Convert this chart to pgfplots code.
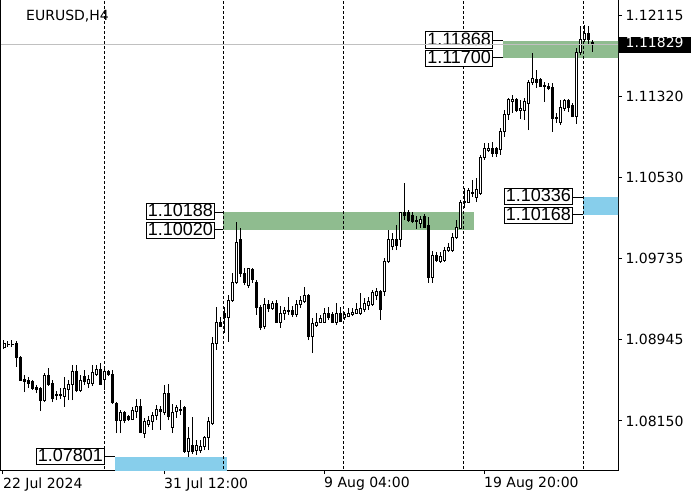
\documentclass[border=0pt]{standalone}
\usepackage{pgfplots}
\pgfplotsset{compat=1.18}
\usepackage{pgfplotstable}
\usepackage{fontspec}
\setmainfont{DejaVu Sans}
\newfontfamily\lblfont{Liberation Sans}
\definecolor{zgreen}{RGB}{143,188,143}
\definecolor{zblue}{RGB}{135,206,235}
\definecolor{pline}{RGB}{192,192,192}

\pgfplotstableread{
i o h l c
0 1.08873 1.08941 1.08854 1.08912
1 1.08902 1.08932 1.08873 1.08893
2 1.08893 1.08941 1.08873 1.08902
3 1.08912 1.08932 1.08678 1.08775
4 1.08775 1.08785 1.08541 1.08550
5 1.08560 1.08599 1.08433 1.08531
6 1.08550 1.08580 1.08472 1.08521
7 1.08531 1.08550 1.08453 1.08472
8 1.08482 1.08502 1.08423 1.08453
9 1.08472 1.08482 1.08247 1.08355
10 1.08355 1.08619 1.08335 1.08590
11 1.08590 1.08668 1.08492 1.08511
12 1.08521 1.08550 1.08335 1.08365
13 1.08404 1.08443 1.08355 1.08399
14 1.08399 1.08472 1.08365 1.08404
15 1.08394 1.08580 1.08287 1.08463
16 1.08453 1.08550 1.08355 1.08502
17 1.08502 1.08697 1.08355 1.08629
18 1.08629 1.08697 1.08433 1.08443
19 1.08443 1.08599 1.08433 1.08550
20 1.08580 1.08648 1.08502 1.08531
21 1.08521 1.08599 1.08472 1.08560
22 1.08521 1.08697 1.08492 1.08619
23 1.08609 1.08697 1.08590 1.08658
24 1.08658 1.08717 1.08502 1.08511
25 1.08560 1.08668 1.08453 1.08629
26 1.08629 1.08648 1.08590 1.08609
27 1.08609 1.08648 1.08316 1.08326
28 1.08316 1.08335 1.08032 1.08159
29 1.08159 1.08257 1.08032 1.08228
30 1.08228 1.08247 1.08130 1.08159
31 1.08189 1.08208 1.08150 1.08169
32 1.08169 1.08287 1.08159 1.08257
33 1.08238 1.08365 1.08179 1.08296
34 1.08296 1.08365 1.08032 1.08042
35 1.08032 1.08179 1.07984 1.08140
36 1.08120 1.08199 1.08091 1.08159
37 1.08140 1.08238 1.08062 1.08208
38 1.08208 1.08306 1.08159 1.08267
39 1.08267 1.08296 1.08062 1.08247
40 1.08228 1.08502 1.08208 1.08423
41 1.08423 1.08511 1.08159 1.08189
42 1.08091 1.08316 1.08032 1.08228
43 1.08238 1.08306 1.08179 1.08277
44 1.08267 1.08355 1.08208 1.08257
45 1.08277 1.08296 1.07837 1.07847
46 1.07847 1.08091 1.07801 1.07974
47 1.07915 1.08189 1.07827 1.07847
48 1.07866 1.07964 1.07817 1.07915
49 1.07866 1.07964 1.07837 1.07905
50 1.07896 1.08003 1.07866 1.07984
51 1.07984 1.08189 1.07866 1.08140
52 1.08130 1.08971 1.08111 1.08912
53 1.08912 1.09264 1.08844 1.09117
54 1.09117 1.09166 1.09069 1.09078
55 1.09196 1.09264 1.09010 1.09157
56 1.09166 1.09381 1.08922 1.09332
57 1.09332 1.09596 1.09313 1.09508
58 1.09508 1.10095 1.09489 1.09899
59 1.09919 1.10036 1.09557 1.09596
60 1.09596 1.09645 1.09479 1.09508
61 1.09479 1.09645 1.09450 1.09636
62 1.09626 1.09645 1.09499 1.09528
63 1.09508 1.09528 1.09186 1.09264
64 1.09264 1.09284 1.09039 1.09059
65 1.09069 1.09352 1.09049 1.09284
66 1.09284 1.09332 1.09215 1.09254
67 1.09254 1.09323 1.09235 1.09303
68 1.09303 1.09332 1.09108 1.09117
69 1.09108 1.09274 1.09059 1.09205
70 1.09196 1.09264 1.09137 1.09225
71 1.09225 1.09362 1.09186 1.09220
72 1.09225 1.09274 1.09166 1.09186
73 1.09186 1.09332 1.09166 1.09284
74 1.09284 1.09372 1.09254 1.09323
75 1.09313 1.09460 1.09303 1.09372
76 1.09372 1.09391 1.08941 1.08971
77 1.08971 1.09157 1.08814 1.09098
78 1.09088 1.09205 1.09069 1.09117
79 1.09117 1.09186 1.09108 1.09147
80 1.09117 1.09254 1.09108 1.09205
81 1.09205 1.09264 1.09137 1.09166
82 1.09186 1.09215 1.09108 1.09117
83 1.09108 1.09303 1.09088 1.09196
84 1.09196 1.09264 1.09117 1.09127
85 1.09157 1.09215 1.09137 1.09186
86 1.09176 1.09254 1.09166 1.09205
87 1.09186 1.09254 1.09176 1.09215
88 1.09205 1.09303 1.09196 1.09235
89 1.09205 1.09401 1.09186 1.09245
90 1.09235 1.09352 1.09215 1.09303
91 1.09274 1.09362 1.09235 1.09313
92 1.09293 1.09430 1.09274 1.09401
93 1.09372 1.09450 1.09332 1.09411
94 1.09411 1.09430 1.09137 1.09235
95 1.09411 1.09743 1.09372 1.09704
96 1.09704 1.10017 1.09694 1.09919
97 1.09851 1.09987 1.09821 1.09919
98 1.09919 1.10066 1.09821 1.09870
99 1.09919 1.10193 1.09851 1.10183
100 1.10183 1.10476 1.10114 1.10163
101 1.10183 1.10212 1.10095 1.10114
102 1.10163 1.10193 1.10085 1.10095
103 1.10114 1.10154 1.10027 1.10095
104 1.10085 1.10154 1.10036 1.10124
105 1.10144 1.10173 1.10036 1.10046
106 1.10056 1.10144 1.09499 1.09557
107 1.09557 1.09811 1.09499 1.09772
108 1.09772 1.09802 1.09704 1.09714
109 1.09704 1.09802 1.09694 1.09753
110 1.09723 1.09851 1.09704 1.09821
111 1.09821 1.09890 1.09802 1.09841
112 1.09821 1.09987 1.09802 1.09948
113 1.09948 1.10114 1.09929 1.10046
114 1.10036 1.10310 1.10027 1.10281
115 1.10281 1.10427 1.10232 1.10300
116 1.10290 1.10427 1.10281 1.10398
117 1.10378 1.10505 1.10339 1.10388
118 1.10330 1.10525 1.10290 1.10408
119 1.10378 1.10750 1.10359 1.10730
120 1.10730 1.10867 1.10701 1.10809
121 1.10789 1.10867 1.10779 1.10818
122 1.10818 1.10877 1.10730 1.10769
123 1.10809 1.10828 1.10730 1.10769
124 1.10799 1.11014 1.10750 1.10975
125 1.10975 1.11190 1.10926 1.11141
126 1.11141 1.11307 1.11092 1.11297
127 1.11268 1.11336 1.11160 1.11297
128 1.11288 1.11307 1.11170 1.11180
129 1.11180 1.11288 1.11102 1.11209
130 1.11180 1.11307 1.11092 1.11268
131 1.11258 1.11483 1.10994 1.11463
132 1.11454 1.11747 1.11434 1.11493
133 1.11483 1.11581 1.11405 1.11454
134 1.11483 1.11503 1.11415 1.11424
135 1.11434 1.11463 1.11268 1.11415
136 1.11424 1.11454 1.11385 1.11395
137 1.11405 1.11454 1.10975 1.11102
138 1.11121 1.11160 1.11063 1.11102
139 1.11063 1.11288 1.11043 1.11219
140 1.11200 1.11297 1.11180 1.11278
141 1.11278 1.11297 1.11170 1.11219
142 1.11229 1.11258 1.11121 1.11131
143 1.11131 1.11796 1.11053 1.11747
144 1.11747 1.12011 1.11727 1.11874
145 1.11874 1.12021 1.11854 1.11933
146 1.11933 1.12011 1.11825 1.11874
147 1.11854 1.11874 1.11757 1.11829
}\candles

\begin{document}
\begin{tikzpicture}
\useasboundingbox (0,0) rectangle (700pt,500pt);
\pgfplotsset{chartbase/.style={at={(1pt,30pt)}, anchor=south west,
  width=617pt, height=470pt, scale only axis,
  xmin=-0.75, xmax=153.5, ymin=1.0767075, ymax=1.12265}}
\begin{axis}[chartbase,
  axis line style={black, line width=1pt},
  tick style={black, line width=1pt},
  tick align=outside, major tick length=4pt,
  xtick pos=lower, ytick pos=right, yticklabel pos=right,
  xtick={-0.25,40,80,120},
  xticklabels={22 Jul 2024,31 Jul 12:00,9 Aug 04:00,19 Aug 20:00},
  ytick={1.08150,1.08945,1.09735,1.10530,1.11320,1.12115},
  yticklabels={1.08150,1.08945,1.09735,1.10530,1.11320,1.12115},
  tick label style={font=\fontsize{14}{16}\selectfont},
  xticklabel style={anchor=north west, inner xsep=0pt},
  yticklabel style={anchor=west},
  /pgf/number format/assume math mode=true]
% zones
\addplot[draw=none, fill=zgreen, forget plot] coordinates {(54.75,1.10020) (117.5,1.10020) (117.5,1.10188) (54.75,1.10188)} -- cycle;
\addplot[draw=none, fill=zgreen, forget plot] coordinates {(124.75,1.11700) (154,1.11700) (154,1.11868) (124.75,1.11868)} -- cycle;
\addplot[draw=none, fill=zblue, forget plot] coordinates {(27.75,1.0760) (55.7,1.0760) (55.7,1.07801) (27.75,1.07801)} -- cycle;
\addplot[draw=none, fill=zblue, forget plot] coordinates {(144.75,1.10168) (154,1.10168) (154,1.10336) (144.75,1.10336)} -- cycle;
% period separators
\foreach \s in {25,54.8,84.8,114.8,144.8}{
  \edef\tmp{\noexpand\addplot[black, line width=1pt, dash pattern=on 3pt off 2pt, forget plot] coordinates {(\s,1.07) (\s,1.13)};}
  \tmp
}
% wicks
\addplot[draw=none, mark=none, forget plot,
  error bars/.cd, y dir=plus, y explicit, error mark=none,
  error bar style={draw=black, line width=1pt, solid}]
  table[x=i, y=l, y error plus expr=\thisrow{h}-\thisrow{l}] {\candles};
\end{axis}

\begin{axis}[chartbase, hide axis, ybar stacked, bar width=0.5, clip mode=individual]
\addplot[draw=none, fill=none] table[x=i, y expr={min(\thisrow{o},\thisrow{c})}] {\candles};
\addplot[draw=black, fill=white, line width=1pt] table[x=i, y expr={max(\thisrow{c}-\thisrow{o},0)}] {\candles};
\addplot[draw=black, fill=black, line width=1pt] table[x=i, y expr={max(\thisrow{o}-\thisrow{c},0)}] {\candles};
\tikzset{lbl/.style={draw=black, fill=white, line width=1pt, font=\lblfont\fontsize{18}{20}\selectfont,
  inner xsep=1.5pt, inner ysep=0pt, text height=13.5pt, text depth=3pt, anchor=east}}
\node[lbl] at (axis cs:52.75,1.10196) {1.10188};
\node[lbl] at (axis cs:52.75,1.10012) {1.10020};
\node[lbl] at (axis cs:122.25,1.11876) {1.11868};
\node[lbl] at (axis cs:122.25,1.11692) {1.11700};
\node[lbl] at (axis cs:142.25,1.10344) {1.10336};
\node[lbl] at (axis cs:142.25,1.10160) {1.10168};
\node[lbl] at (axis cs:25.25,1.07801) {1.07801};
\node[anchor=base west, inner sep=0pt, font=\fontsize{14}{16}\selectfont] at (axis cs:5.5,1.12060) {EURUSD,H4};
\end{axis}

\begin{axis}[chartbase, hide axis, clip mode=individual]
\addplot[pline, line width=1pt] coordinates {(-0.75,1.11829) (153.5,1.11829)};
\addplot[black, line width=1pt] coordinates {(52.75,1.10188) (54.75,1.10188)};
\addplot[black, line width=1pt] coordinates {(52.75,1.10020) (54.75,1.10020)};
\addplot[black, line width=1pt] coordinates {(122.25,1.11868) (124.75,1.11868)};
\addplot[black, line width=1pt] coordinates {(122.25,1.11700) (124.75,1.11700)};
\addplot[black, line width=1pt] coordinates {(142.25,1.10336) (144.75,1.10336)};
\addplot[black, line width=1pt] coordinates {(142.25,1.10168) (144.75,1.10168)};
\addplot[black, line width=1pt] coordinates {(25.25,1.07801) (27.75,1.07801)};
\node[anchor=west, fill=black, text=white, inner xsep=7pt, inner ysep=0pt,
  text height=11pt, text depth=5pt, xshift=0.5pt, font=\fontsize{14}{16}\selectfont]
  at (axis cs:153.5,1.11829) {1.11829};
\end{axis}
\end{tikzpicture}
\end{document}
